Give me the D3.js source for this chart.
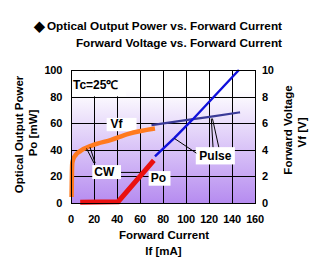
<!DOCTYPE html>
<html>
<head>
<title>Optical Output Power / Forward Voltage vs. Forward Current</title>
<script src="https://d3js.org/d3.v7.min.js"></script>
<style>
    body { margin: 0; background: #fff; }
    text { font-family: "Liberation Sans", Arial, sans-serif; font-weight: bold; fill: #000; }
</style>
</head>
<body>
<div id="chart"></div>
<script>
// tick values
var currentTicks = [0, 20, 40, 60, 80, 100, 120, 140, 160];
var powerTicks = [0, 20, 40, 60, 80, 100];
var voltageTicks = [0, 2, 4, 6, 8, 10];

// [If mA, Vf V]
var vfCw = [[0.5, 0.45], [0.8, 2.2], [1.1, 3.0], [2, 3.3], [4, 3.6], [8, 3.9], [19, 4.35], [35, 4.75], [50, 5.2], [73, 5.6]];
var vfPulse = [[70, 5.85], [106, 6.3], [122, 6.49], [147, 6.82]];
// [If mA, Po mW]
var poCw = [[8, 0.5], [41, 1], [72, 32]];
var poPulse = [[73, 35], [90, 49], [106, 63], [146, 100]];

var svg = d3.select("#chart").append("svg")
    .attr("width", 322)
    .attr("height", 266);

var x = d3.scaleLinear().domain([0, 160]).range([71, 255]);
var yPo = d3.scaleLinear().domain([0, 100]).range([203, 70]);
var yVf = d3.scaleLinear().domain([0, 10]).range([203, 70]);

// background gradient
var grad = svg.append("defs").append("linearGradient")
    .attr("id", "bg").attr("x1", 0).attr("y1", 0).attr("x2", 0).attr("y2", 1);
grad.append("stop").attr("offset", "0%").attr("stop-color", "#ffffff");
grad.append("stop").attr("offset", "15%").attr("stop-color", "#ffffff");
grad.append("stop").attr("offset", "100%").attr("stop-color", "#b68cf0");

svg.append("rect")
    .attr("x", x(0)).attr("y", yPo(100))
    .attr("width", x(160) - x(0)).attr("height", yPo(0) - yPo(100))
    .attr("fill", "url(#bg)");

// grid
svg.append("g").selectAll("line")
    .data(currentTicks)
    .enter().append("line")
    .attr("x1", function(d) { return Math.round(x(d)) + 0.5; })
    .attr("x2", function(d) { return Math.round(x(d)) + 0.5; })
    .attr("y1", yPo(100)).attr("y2", yPo(0))
    .attr("stroke", "#000").attr("stroke-width", 1);
svg.append("g").selectAll("line")
    .data(powerTicks)
    .enter().append("line")
    .attr("y1", function(d) { return Math.round(yPo(d)) + 0.5; })
    .attr("y2", function(d) { return Math.round(yPo(d)) + 0.5; })
    .attr("x1", x(0)).attr("x2", x(160))
    .attr("stroke", "#000").attr("stroke-width", 1);

// white label boxes (cover the grid)
function box(x0, x1, y0, y1) {
    svg.append("rect")
        .attr("x", x(x0)).attr("y", yPo(y0))
        .attr("width", x(x1) - x(x0)).attr("height", yPo(y1) - yPo(y0))
        .attr("fill", "#fff");
}
box(0.9, 48, 99.2, 80.2);
box(31, 57, 64, 54);
box(18.5, 43.5, 28.5, 18);
box(67.5, 86.5, 24, 13);
box(108.5, 142.5, 42, 29);

// curves
var lineVf = d3.line()
    .x(function(d) { return x(d[0]); })
    .y(function(d) { return yVf(d[1]); })
    .curve(d3.curveMonotoneX);
var linePo = d3.line()
    .x(function(d) { return x(d[0]); })
    .y(function(d) { return yPo(d[1]); });

svg.append("path").datum(vfPulse).attr("d", lineVf)
    .attr("fill", "none").attr("stroke", "#3a3a98").attr("stroke-width", 2.2);
svg.append("path").datum(vfCw).attr("d", lineVf)
    .attr("fill", "none").attr("stroke", "#ff7a1e").attr("stroke-width", 4.5);
svg.append("path").datum(poPulse).attr("d", linePo)
    .attr("fill", "none").attr("stroke", "#1010dc").attr("stroke-width", 2.4);
svg.append("path").datum(poCw).attr("d", linePo)
    .attr("fill", "none").attr("stroke", "#ea1010").attr("stroke-width", 5);

// leader lines
function leader(a, b, c, d) {
    svg.append("line")
        .attr("x1", x(a)).attr("y1", yPo(b))
        .attr("x2", x(c)).attr("y2", yPo(d))
        .attr("stroke", "#000").attr("stroke-width", 1);
}
leader(20, 30, 13.5, 41);
leader(21, 30, 16.5, 42);
leader(43.5, 23, 60, 23);
leader(90, 48.5, 109, 37.5);
leader(122, 63.5, 123.5, 42);
leader(123, 63.5, 128.5, 42);

// plot border
svg.append("rect")
    .attr("x", Math.round(x(0)) + 0.5).attr("y", Math.round(yPo(100)) + 0.5)
    .attr("width", Math.round(x(160)) - Math.round(x(0)))
    .attr("height", Math.round(yPo(0)) - Math.round(yPo(100)))
    .attr("fill", "none").attr("stroke", "#000");

// annotation text
function label(t, a, b, size) {
    svg.append("text")
        .attr("x", x(a)).attr("y", yPo(b))
        .attr("text-anchor", "middle")
        .attr("dominant-baseline", "central")
        .attr("font-size", size)
        .text(t);
}
label("Tc=25\u2103", 21.5, 88.5, "12px");
label("Vf", 39.5, 59.5, "12px");
label("CW", 29, 23.3, "12px");
label("Po", 76, 18.6, "12px");
label("Pulse", 125.5, 35.5, "12px");

// ticks
svg.append("g").selectAll("text")
    .data(currentTicks)
    .enter().append("text")
    .attr("x", function(d) { return x(d); })
    .attr("y", 223)
    .attr("text-anchor", "middle")
    .attr("font-size", "11px")
    .attr("letter-spacing", "-0.3px")
    .text(function(d) { return d; });
svg.append("g").selectAll("text")
    .data(powerTicks)
    .enter().append("text")
    .attr("x", 62)
    .attr("y", function(d) { return yPo(d); })
    .attr("text-anchor", "end")
    .attr("dominant-baseline", "central")
    .attr("font-size", "11px")
    .attr("letter-spacing", "-0.3px")
    .text(function(d) { return d; });
svg.append("g").selectAll("text")
    .data(voltageTicks)
    .enter().append("text")
    .attr("x", 262)
    .attr("y", function(d) { return yVf(d); })
    .attr("dominant-baseline", "central")
    .attr("font-size", "11px")
    .attr("letter-spacing", "-0.3px")
    .text(function(d) { return d; });

// titles
svg.append("text").attr("x", 39).attr("y", 30.5).attr("text-anchor", "middle")
    .attr("font-family", "DejaVu Sans").attr("font-size", "14px").text("\u25C6");
svg.append("text").attr("x", 282).attr("y", 30).attr("text-anchor", "end")
    .attr("font-size", "11.75px").text("Optical Output Power vs. Forward Current");
svg.append("text").attr("x", 282).attr("y", 46.7).attr("text-anchor", "end")
    .attr("font-size", "11.75px").text("Forward Voltage vs. Forward Current");

svg.append("text").attr("x", 164).attr("y", 238.5).attr("text-anchor", "middle")
    .attr("font-size", "11.5px").text("Forward Current");
svg.append("text").attr("x", 163.5).attr("y", 254.5).attr("text-anchor", "middle")
    .attr("font-size", "11.5px").text("If [mA]");

svg.append("text").attr("transform", "translate(22.5,134.5) rotate(-90)")
    .attr("text-anchor", "middle").attr("font-size", "11.5px").text("Optical Output Power");
svg.append("text").attr("transform", "translate(36.5,133) rotate(-90)")
    .attr("text-anchor", "middle").attr("font-size", "11.5px").text("Po [mW]");
svg.append("text").attr("transform", "translate(291.5,130) rotate(-90)")
    .attr("text-anchor", "middle").attr("font-size", "11.5px").text("Forward Voltage");
svg.append("text").attr("transform", "translate(306,132.5) rotate(-90)")
    .attr("text-anchor", "middle").attr("font-size", "11.5px").text("Vf [V]");
</script>
</body>
</html>
